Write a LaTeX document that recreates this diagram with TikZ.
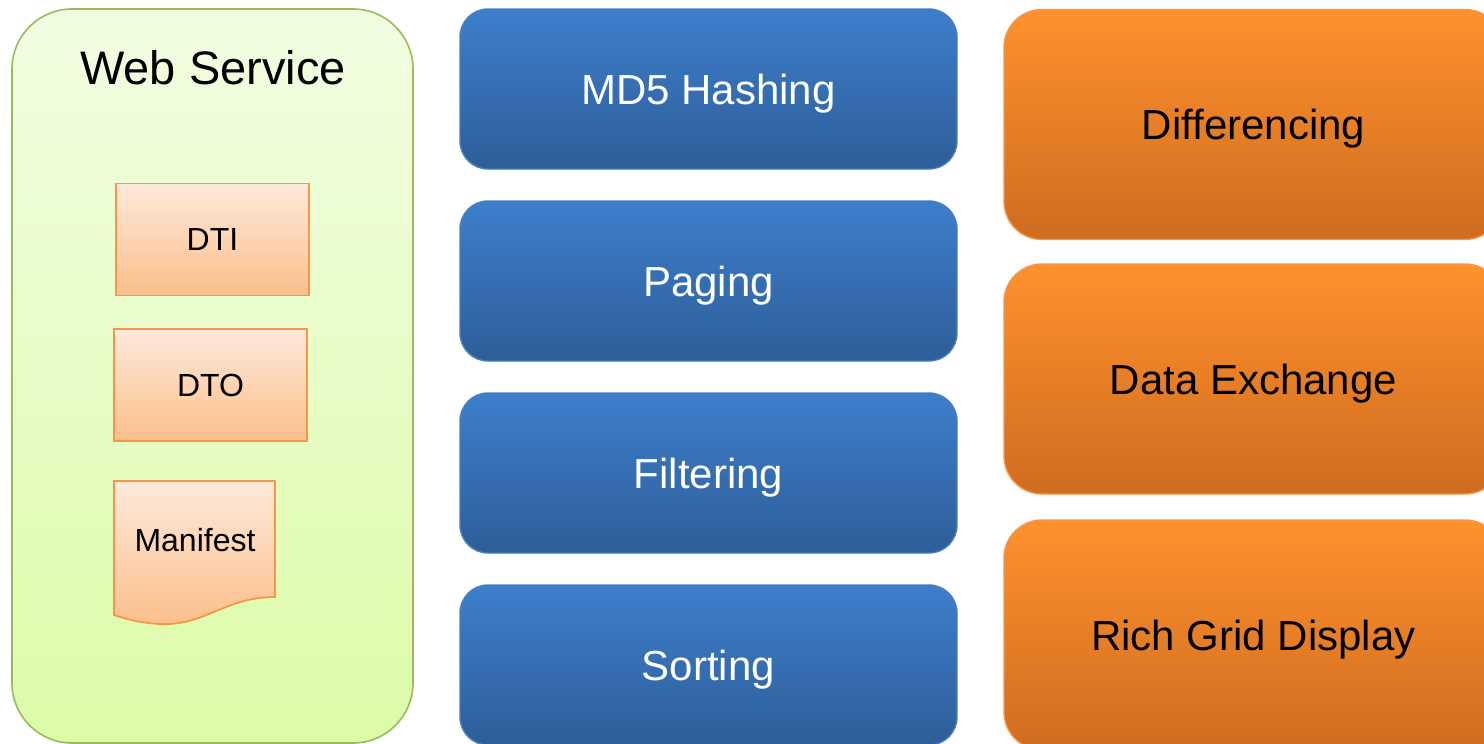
\documentclass[tikz,border=0pt]{standalone}
\usepackage{fontspec}
\setmainfont{Liberation Sans}
\begin{document}
\begin{tikzpicture}[x=1pt,y=-1pt,
  capbox/.style={inner sep=0pt,outer sep=0pt,text depth=0pt},
  container/.style={draw=cGreenLine,line width=1.6pt,rounded corners=60pt,
    top color=cGreenTop,bottom color=cGreenBot,minimum width=401pt,minimum height=734pt,inner sep=0pt},
  doc/.style={draw=cDocLine,line width=1.8pt,top color=cDocTop,bottom color=cDocBot,
    minimum width=193pt,minimum height=112pt,inner sep=0pt,
    font=\fontsize{32}{36}\selectfont,text height=22.9pt,text depth=0pt},
  bluebox/.style={draw=cBlueLine,line width=1.4pt,rounded corners=28pt,
    top color=cBlueTop,bottom color=cBlueBot,minimum width=497pt,minimum height=160pt,
    inner sep=0pt,text=white,font=\fontsize{42}{48}\selectfont,text height=30.1pt,text depth=0pt},
  orangebox/.style={draw=cOrLine,line width=1.4pt,rounded corners=38pt,
    top color=cOrTop,bottom color=cOrBot,minimum width=499pt,minimum height=230pt,
    inner sep=0pt,text=black,font=\fontsize{42}{48}\selectfont,text height=30.1pt,text depth=0pt}
]
\definecolor{cGreenLine}{HTML}{9BBB59}
\definecolor{cGreenTop}{HTML}{F1FDE2}
\definecolor{cGreenBot}{HTML}{DCFCA8}
\definecolor{cDocLine}{HTML}{F79646}
\definecolor{cDocTop}{HTML}{FDE9DB}
\definecolor{cDocBot}{HTML}{FBBF8A}
\definecolor{cBlueLine}{HTML}{4A7EBB}
\definecolor{cBlueTop}{HTML}{3D7ECB}
\definecolor{cBlueBot}{HTML}{2E5E99}
\definecolor{cOrLine}{HTML}{F7964A}
\definecolor{cOrTop}{HTML}{FF912E}
\definecolor{cOrBot}{HTML}{CF6C1F}
\useasboundingbox (0,0) rectangle (1484,744);
\clip (0,0) rectangle (1484,744);

% Web Service container
\node[container] (ws) at (212.5,376) {};
\node[capbox,font=\fontsize{47}{52}\selectfont,text height=33.7pt] (wstitle) at (213,68) {Web Service};

% documents
\node[doc] (dti) at (212.5,239.5) {DTI};
\node[doc] (dto) at (210.5,385) {DTO};
\draw[draw=cDocLine,line width=1.8pt,top color=cDocTop,bottom color=cDocBot]
  (114,481) -- (275,481) -- (275,597)
  .. controls (225,597) and (205,626) .. (160,624)
  .. controls (140,623) and (126,619) .. (114,615) -- cycle;
\node[capbox,font=\fontsize{32}{36}\selectfont,text height=22.9pt] (manifest) at (195,540) {Manifest};

% blue column
\node[bluebox] (md5) at (708.5,89) {MD5 Hashing};
\node[bluebox] (paging) at (708.5,281) {Paging};
\node[bluebox] (filtering) at (708.5,473) {Filtering};
\node[bluebox] (sorting) at (708.5,665) {Sorting};

% orange column
\node[orangebox] (diff) at (1253.5,124.5) {Differencing};
\node[orangebox] (dx) at (1253.5,379) {Data Exchange};
\node[orangebox] (rgd) at (1253.5,635) {Rich Grid Display};
\end{tikzpicture}
\end{document}
